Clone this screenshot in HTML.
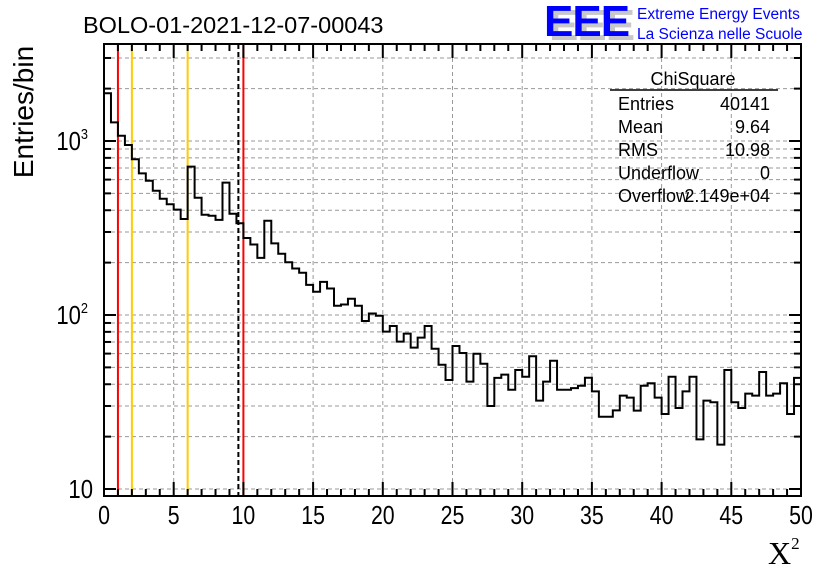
<!DOCTYPE html>
<html><head><meta charset="utf-8"><style>
html,body{margin:0;padding:0;background:#fff;}
svg{display:block;font-family:"Liberation Sans",sans-serif;}
</style></head><body>
<svg id="chart" width="836" height="572" viewBox="0 0 836 572">
<rect x="0" y="0" width="836" height="572" fill="#fff"/>
<g id="grid"></g>
<g id="vlines"></g>
<path id="hist" fill="none" stroke="#000" stroke-width="2"/>
<rect x="104" y="44" width="697" height="452" fill="none" stroke="#000" stroke-width="2"/>
<g id="ticks"></g>
<g id="xlabels" font-size="26" text-anchor="middle"></g>
<g id="ylabels" font-size="26" text-anchor="end"></g>
<text x="83" y="33" font-size="23.5">BOLO-01-2021-12-07-00043</text>
<text transform="translate(33,112) rotate(-90)" font-size="28" text-anchor="middle">Entries/bin</text>
<text x="768" y="564" font-size="32" font-family="'Liberation Serif',serif">X<tspan font-size="17" dy="-15">2</tspan></text>
<g>
<text x="549" y="40" font-size="44" font-weight="bold" fill="#c8c8c8" letter-spacing="-1">EEE</text>
<text x="544" y="36" font-size="44" font-weight="bold" fill="#0000ff" letter-spacing="-1">EEE</text>
<text x="637" y="19" font-size="15.5" fill="#0000ff">Extreme Energy Events</text>
<text x="637" y="39" font-size="15.5" fill="#0000ff">La Scienza nelle Scuole</text>
</g>
<g font-size="18">
<text x="693" y="85" text-anchor="middle">ChiSquare</text>
<line x1="610" y1="90" x2="778" y2="90" stroke="#000" stroke-width="1.5"/>
<text x="618" y="110">Entries</text><text x="770" y="110" text-anchor="end">40141</text>
<text x="618" y="133">Mean</text><text x="770" y="133" text-anchor="end">9.64</text>
<text x="618" y="156">RMS</text><text x="770" y="156" text-anchor="end">10.98</text>
<text x="618" y="179">Underflow</text><text x="770" y="179" text-anchor="end">0</text>
<text x="618" y="202">Overflow</text><text x="770" y="202" text-anchor="end">2.149e+04</text>
</g>
</svg>
<script>
const binEdgesStart = 0;
const binWidth = 0.5;
const counts = [1880,1280,1072,948,785,652,591,518,466,433,
403,356,712,472,377,372,352,576,382,337,
277,254,213,348,258,225,201,185,175,149,
136,155,142,113,115,124,113,92.4,102,99,
80.2,86.5,70.3,78.1,64.9,74.1,86.5,64.0,51.8,42.3,
66.4,60.5,41.4,59.9,52.5,30.0,43.5,45.4,37.2,48.3,
44.2,57.9,32.2,41.4,54.6,37.2,37.2,38.0,39.2,43.6,
36.4,26.0,26.0,28.3,34.4,33.5,28.2,39.2,40.5,33.5,
27.0,44.2,29.2,36.4,44.2,19.3,32.2,31.5,18.0,48.3,
31.5,29.2,35.3,34.4,47.0,34.4,35.3,40.5,27.0,43.5];
const xTicks = [0,5,10,15,20,25,30,35,40,45,50];
const yMajor = [10,100,1000];
const yMajorExp = ["1","2","3"];
const markerX = [1,2,6,9.64,10];
const markerColor = ["#ff0000","#ffcc00","#ffcc00","#000","#ff0000"];

const X0=104,X1=801,Y0=496,Y1=44;
const xMin=0,xMax=50;
function sx(v){return X0+(v-xMin)/(xMax-xMin)*(X1-X0);}
function sy(v){return 489-(Math.log10(v)-1)*174;}
const NS="http://www.w3.org/2000/svg";
function mk(tag,attrs,parent){const e=document.createElementNS(NS,tag);for(const k in attrs)e.setAttribute(k,attrs[k]);parent.appendChild(e);return e;}

const grid=document.getElementById('grid');
for(const t of xTicks){ if(t===0||t===50) continue;
  const l=mk('line',{x1:sx(t),x2:sx(t),y1:Y1,y2:Y0,stroke:'#999','stroke-width':1,'stroke-dasharray':'4,3'},grid);
  
  
}
const ticks=document.getElementById('ticks');
for(const dec of [10,100,1000]){
  for(let m=1;m<=9;m++){const v=dec*m; const y=sy(v); if(y<Y1||y>Y0) continue;
    const gl=mk('line',{x1:X0,x2:X1,y1:y,y2:y,stroke:'#999','stroke-width':1,'stroke-dasharray':'4,3'},grid);
    
    
    const len=m===1?12:7;
    mk('line',{x1:X0,x2:X0+len,y1:y,y2:y,stroke:'#000','stroke-width':2},ticks);
    mk('line',{x1:X1-len,x2:X1,y1:y,y2:y,stroke:'#000','stroke-width':2},ticks);
  }
}
for(let t=0;t<=50;t++){const x=sx(t);const len=t%5===0?14:7;
  mk('line',{x1:x,x2:x,y1:Y0,y2:Y0-len,stroke:'#000','stroke-width':2},ticks);
  mk('line',{x1:x,x2:x,y1:Y1,y2:Y1+len,stroke:'#000','stroke-width':2},ticks);
}
const xl=document.getElementById('xlabels');
for(const t of xTicks){const e=mk('text',{x:sx(t),y:524,transform:`translate(${sx(t)},0) scale(0.82,1) translate(${-sx(t)},0)`},xl);e.textContent=t;
  
  
}
const yl=document.getElementById('ylabels');
yMajor.forEach((v,i)=>{const y=sy(v)+9;
  const rx=i===0?93:88;
  const e=mk('text',{x:rx,y:y,transform:`translate(${rx},0) scale(0.85,1) translate(${-rx},0)`},yl);
  
  
  if(i===0){e.textContent='10';}
  else{e.textContent='10';const s=mk('tspan',{'font-size':15,dy:-11},e);s.textContent=yMajorExp[i];}
});
const vl=document.getElementById('vlines');
markerX.forEach((m,i)=>{const a={x1:sx(m),x2:sx(m),y1:Y1,y2:Y0,stroke:markerColor[i],'stroke-width':2};
  if(markerColor[i]==='#000')a['stroke-dasharray']='5,3';
  const l=mk('line',a,vl);
  
  
});
let d='';
counts.forEach((c,i)=>{const xa=sx(binEdgesStart+i*binWidth),xb=sx(binEdgesStart+(i+1)*binWidth),y=sy(c);
  d+=(i===0?`M${xa},${Y0} L${xa},${y}`:` L${xa},${y}`)+` L${xb},${y}`;
});
document.getElementById('hist').setAttribute('d',d);
</script>
</body></html>
